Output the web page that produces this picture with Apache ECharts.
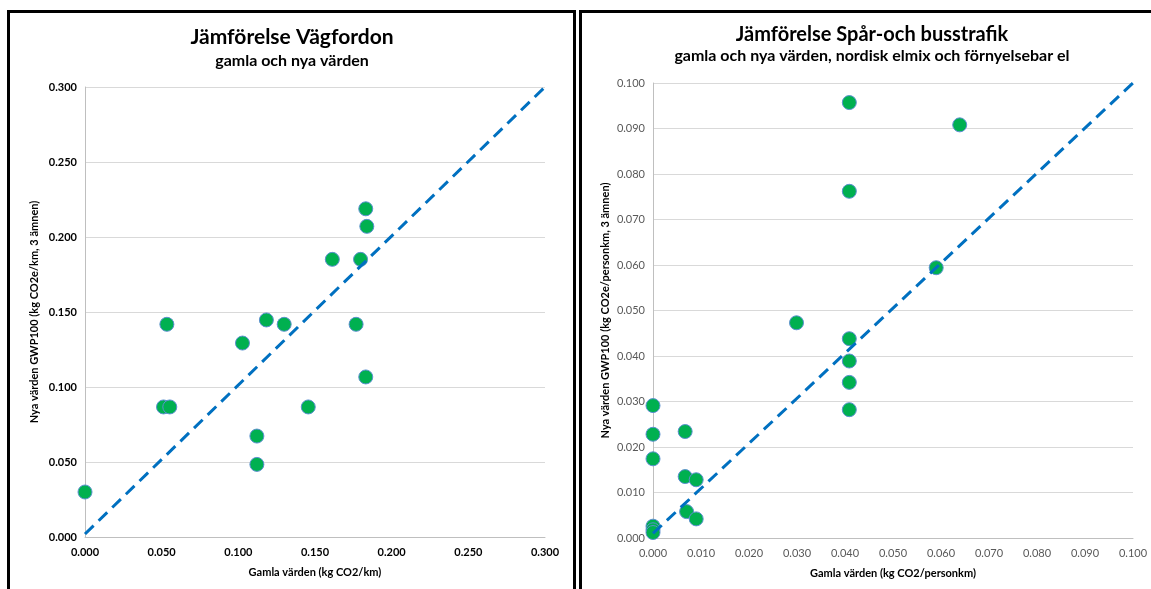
<!DOCTYPE html>
<html><head><meta charset="utf-8">
<script src="https://cdn.jsdelivr.net/npm/echarts@6/dist/echarts.min.js"></script>
<style>
html,body{margin:0;padding:0;background:#fff;}
#c{width:1151px;height:589px;position:absolute;left:0;top:0;}
.frame{position:absolute;border:3px solid #000;box-sizing:border-box;pointer-events:none;}
</style></head><body>
<div id="c"></div>
<div class="frame" style="left:7px;top:10px;width:569px;height:600px;"></div>
<div class="frame" style="left:579px;top:10px;width:600px;height:600px;"></div>
<script>
// Left chart: Vägfordon (old vs new, kg CO2/km)
const roadOld = [0.000, 0.0534, 0.0512, 0.0553, 0.1027, 0.1183, 0.1299, 0.1121, 0.1121, 0.1456, 0.1613, 0.1797, 0.1768, 0.1831, 0.1838, 0.1831];
const roadNew = [0.030, 0.1418, 0.0867, 0.0867, 0.1293, 0.1447, 0.1418, 0.0673, 0.0484, 0.0867, 0.1851, 0.1851, 0.1418, 0.2188, 0.2071, 0.1067];
const roadRef = [[0, 0.002], [0.3, 0.3]];
// Right chart: Spår- och busstrafik (kg CO2/personkm)
const railOld = [0.0409, 0.0639, 0.0409, 0.0590, 0.0299, 0.0409, 0.0409, 0.0409, 0.0409, 0.000, 0.000, 0.000, 0.0067, 0.0067, 0.0090, 0.0070, 0.0090, 0.000, 0.000, 0.000];
const railNew = [0.0957, 0.0908, 0.0762, 0.0594, 0.0473, 0.0438, 0.0389, 0.0342, 0.0282, 0.0291, 0.0228, 0.0174, 0.0234, 0.0135, 0.0128, 0.0058, 0.0042, 0.0026, 0.0018, 0.0012];
const railRef = [[0, 0.001], [0.1, 0.1]];
const leftTicks = {min: 0, max: 0.3, interval: 0.05};
const rightTicks = {min: 0, max: 0.1, interval: 0.01};

const FONT = 'Lato';
const zip = (a, b) => a.map((v, i) => [v, b[i]]);
const marker = {color: '#00B050', borderColor: '#5B8FCF', borderWidth: 1, opacity: 1};
const chart = echarts.init(document.getElementById('c'), null, {renderer: 'canvas'});
function axis(gi, ticks, bold, color, name, gap, isY) {
  return {
    type: 'value', gridIndex: gi, min: ticks.min, max: ticks.max, interval: ticks.interval,
    name: name, nameLocation: 'middle', nameGap: gap,
    nameTextStyle: {fontFamily: FONT, fontSize: 11, fontWeight: 'bold', color: '#000'},
    axisLine: {show: true, lineStyle: {color: '#BFBFBF', width: 1}},
    axisTick: {show: false},
    axisLabel: {fontFamily: FONT, fontSize: 11, fontWeight: bold ? 'bold' : 'normal', color: color,
      margin: isY ? 8 : 10, formatter: v => v.toFixed(3)},
    splitLine: {show: isY, lineStyle: {color: '#D9D9D9', width: 1}}
  };
}
chart.setOption({
  animation: false,
  title: [
    {text: 'Jämförelse Vägfordon', subtext: 'gamla och nya värden', left: 287, top: 22, textAlign: 'center',
     textStyle: {fontFamily: FONT, fontSize: 21, fontWeight: 'bold', color: '#000'},
     subtextStyle: {fontFamily: FONT, fontSize: 16, fontWeight: 'bold', color: '#000'}, itemGap: 5},
    {text: 'Jämförelse Spår-och busstrafik', subtext: 'gamla och nya värden, nordisk elmix och förnyelsebar el', left: 867, top: 20, textAlign: 'center',
     textStyle: {fontFamily: FONT, fontSize: 20, fontWeight: 'bold', color: '#000'},
     subtextStyle: {fontFamily: FONT, fontSize: 16, fontWeight: 'bold', color: '#000'}, itemGap: 3}
  ],
  grid: [
    {left: 85, top: 87, width: 460, height: 450},
    {left: 653, top: 83, width: 480, height: 455}
  ],
  xAxis: [
    axis(0, leftTicks, true, '#000', 'Gamla värden (kg CO2/km)', 30, false),
    axis(1, rightTicks, false, '#595959', 'Gamla värden (kg CO2/personkm)', 30, false)
  ],
  yAxis: [
    axis(0, leftTicks, true, '#000', 'Nya värden GWP100 (kg CO2e/km, 3 ämnen)', 45, true),
    axis(1, rightTicks, false, '#595959', 'Nya värden GWP100 (kg CO2e/personkm, 3 ämnen)', 42, true)
  ],
  series: [
    {type: 'scatter', xAxisIndex: 0, yAxisIndex: 0, data: zip(roadOld, roadNew), symbolSize: 14, itemStyle: marker, z: 2},
    {type: 'line', xAxisIndex: 0, yAxisIndex: 0, data: roadRef, symbol: 'none', z: 3,
     lineStyle: {color: '#0070C0', width: 3, type: [12, 7]}},
    {type: 'scatter', xAxisIndex: 1, yAxisIndex: 1, data: zip(railOld, railNew), symbolSize: 14, itemStyle: marker, z: 2},
    {type: 'line', xAxisIndex: 1, yAxisIndex: 1, data: railRef, symbol: 'none', z: 3,
     lineStyle: {color: '#0070C0', width: 3, type: [12, 7]}}
  ]
});
</script>
</body></html>
